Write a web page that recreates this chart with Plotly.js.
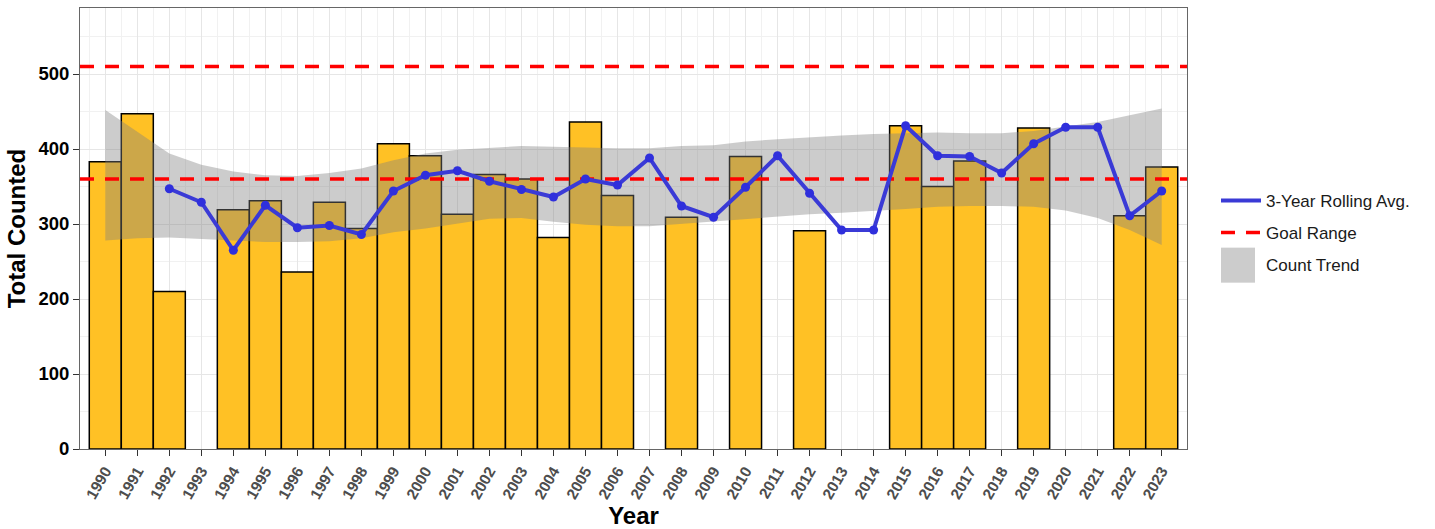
<!DOCTYPE html>
<html>
<head>
<meta charset="utf-8">
<script src="https://cdn.plot.ly/plotly-3.0.1.min.js"></script>
<style>
  html, body { margin: 0; padding: 0; background: #fff; }
  #plot { width: 1435px; height: 529px; }
</style>
</head>
<body>
<div id="plot"></div>
<script>
// yearly totals (null = no count that year)
const years = [];
for (let y = 1990; y <= 2023; y++) years.push(y);

const totals = [383, 447, 210, null, 319, 331, 236, 329, 294, 407,
                391, 313, 366, 360, 282, 436, 338, null, 309, null,
                390, null, 291, null, null, 431, 350, 384, null, 428,
                null, null, 311, 376];

// 3-year rolling average, starts in 1992
const rollYears = years.slice(2);
const rollAvg = [347, 329, 265, 325, 295, 298, 286, 344, 365, 371,
                 357, 346, 336, 360, 352, 388, 324, 309, 349, 391,
                 341, 292, 292, 431, 391, 390, 368, 407, 429, 429,
                 311, 344];

// smoothed trend confidence band
const trendUpper = [452, 423, 394, 379, 370, 365, 364, 368, 374, 385,
                    394, 399, 402, 404, 403, 402, 401, 401, 404, 405,
                    410, 413, 416, 418, 420, 421, 422, 421, 421, 424,
                    430, 436, 445, 454];
const trendLower = [278, 281, 282, 281, 278, 276, 276, 277, 281, 289,
                    294, 300, 307, 308, 303, 299, 297, 297, 300, 303,
                    307, 310, 313, 315, 317, 320, 323, 324, 324, 323,
                    318, 308, 292, 272];

// goal range
const goalLow = 360;
const goalHigh = 510;

const xRange = [1989.21, 2023.79];
const yRange = [0, 588];

const bandColor = 'rgba(127,127,127,0.4)';
const lineBlue = '#3a3ad6';

const data = [
  {
    x: years,
    y: totals,
    type: 'bar',
    width: 1,
    marker: { color: '#FFC125', line: { color: '#000', width: 1.5 } },
    showlegend: false,
    hoverinfo: 'skip'
  },
  {
    x: years.concat(years.slice().reverse()),
    y: trendUpper.concat(trendLower.slice().reverse()),
    type: 'scatter',
    mode: 'lines',
    fill: 'toself',
    fillcolor: bandColor,
    line: { width: 0 },
    name: 'Count Trend',
    legendrank: 3,
    legendgroup: 'c',
    hoverinfo: 'skip'
  },
  {
    x: [xRange[0], xRange[1], null, xRange[0], xRange[1]],
    y: [goalHigh, goalHigh, null, goalLow, goalLow],
    type: 'scatter',
    mode: 'lines',
    line: { color: '#ff0000', width: 3.5, dash: '14px,11px' },
    name: 'Goal Range',
    legendrank: 2,
    legendgroup: 'b',
    hoverinfo: 'skip'
  },
  {
    x: rollYears,
    y: rollAvg,
    type: 'scatter',
    mode: 'lines',
    line: { color: lineBlue, width: 4 },
    name: '3-Year Rolling Avg.',
    legendrank: 1,
    legendgroup: 'a',
    hoverinfo: 'skip'
  },
  {
    x: rollYears,
    y: rollAvg,
    type: 'scatter',
    mode: 'markers',
    marker: { color: '#2f2fdc', size: 9 },
    showlegend: false,
    hoverinfo: 'skip'
  }
];

const gridMajor = '#e6e6e6';
const gridMinor = '#f1f1f1';

const layout = {
  width: 1435,
  height: 529,
  margin: { l: 80, r: 248, t: 8, b: 80 },
  paper_bgcolor: '#fff',
  plot_bgcolor: '#fff',
  font: { family: 'Liberation Sans, Arial, sans-serif', color: '#000' },
  bargap: 0,
  xaxis: {
    range: xRange,
    tickmode: 'linear',
    tick0: 1990,
    dtick: 1,
    tickangle: -60,
    tickfont: { size: 15.5, color: '#4d4d4d', weight: 'bold' },
    ticks: 'outside',
    ticklen: 6,
    tickcolor: '#333',
    showgrid: true,
    gridcolor: gridMajor,
    minor: { dtick: 0.5, tick0: 1989.5, showgrid: true, gridcolor: gridMinor },
    zeroline: false,
    showline: true,
    mirror: true,
    linecolor: '#666',
    linewidth: 1,
    title: { text: 'Year', font: { size: 24, weight: 'bold' }, standoff: 2 }
  },
  yaxis: {
    range: yRange,
    tickmode: 'linear',
    tick0: 0,
    dtick: 100,
    tickfont: { size: 18.5, color: '#000', weight: 'bold' },
    ticks: 'outside',
    ticklen: 6,
    tickcolor: '#333',
    showgrid: true,
    gridcolor: gridMajor,
    minor: { dtick: 50, showgrid: true, gridcolor: gridMinor },
    zeroline: false,
    showline: true,
    mirror: true,
    linecolor: '#666',
    linewidth: 1,
    title: { text: 'Total Counted', font: { size: 24, weight: 'bold' }, standoff: 6 }
  },
  legend: {
    x: 1.0262,
    y: 0.49,
    xanchor: 'left',
    yanchor: 'middle',
    font: { size: 17, color: '#1a1a1a' },
    tracegroupgap: 7,
    itemwidth: 40
  },
  showlegend: true
};

Plotly.newPlot('plot', data, layout, { displayModeBar: false, staticPlot: true }).then(gd => {
  // ggplot-style square key for the trend band
  gd.querySelectorAll('.legend .traces').forEach(t => {
    const txt = t.querySelector('.legendtext');
    if (txt && txt.textContent === 'Count Trend') {
      const g = t.querySelector('.legendfill') || t;
      g.querySelectorAll('path').forEach(q => q.remove());
      const r = document.createElementNS('http://www.w3.org/2000/svg', 'rect');
      r.setAttribute('x', 5);
      r.setAttribute('y', -17);
      r.setAttribute('width', 34);
      r.setAttribute('height', 35);
      r.setAttribute('fill', bandColor);
      g.appendChild(r);
    }
  });
});
</script>
</body>
</html>
